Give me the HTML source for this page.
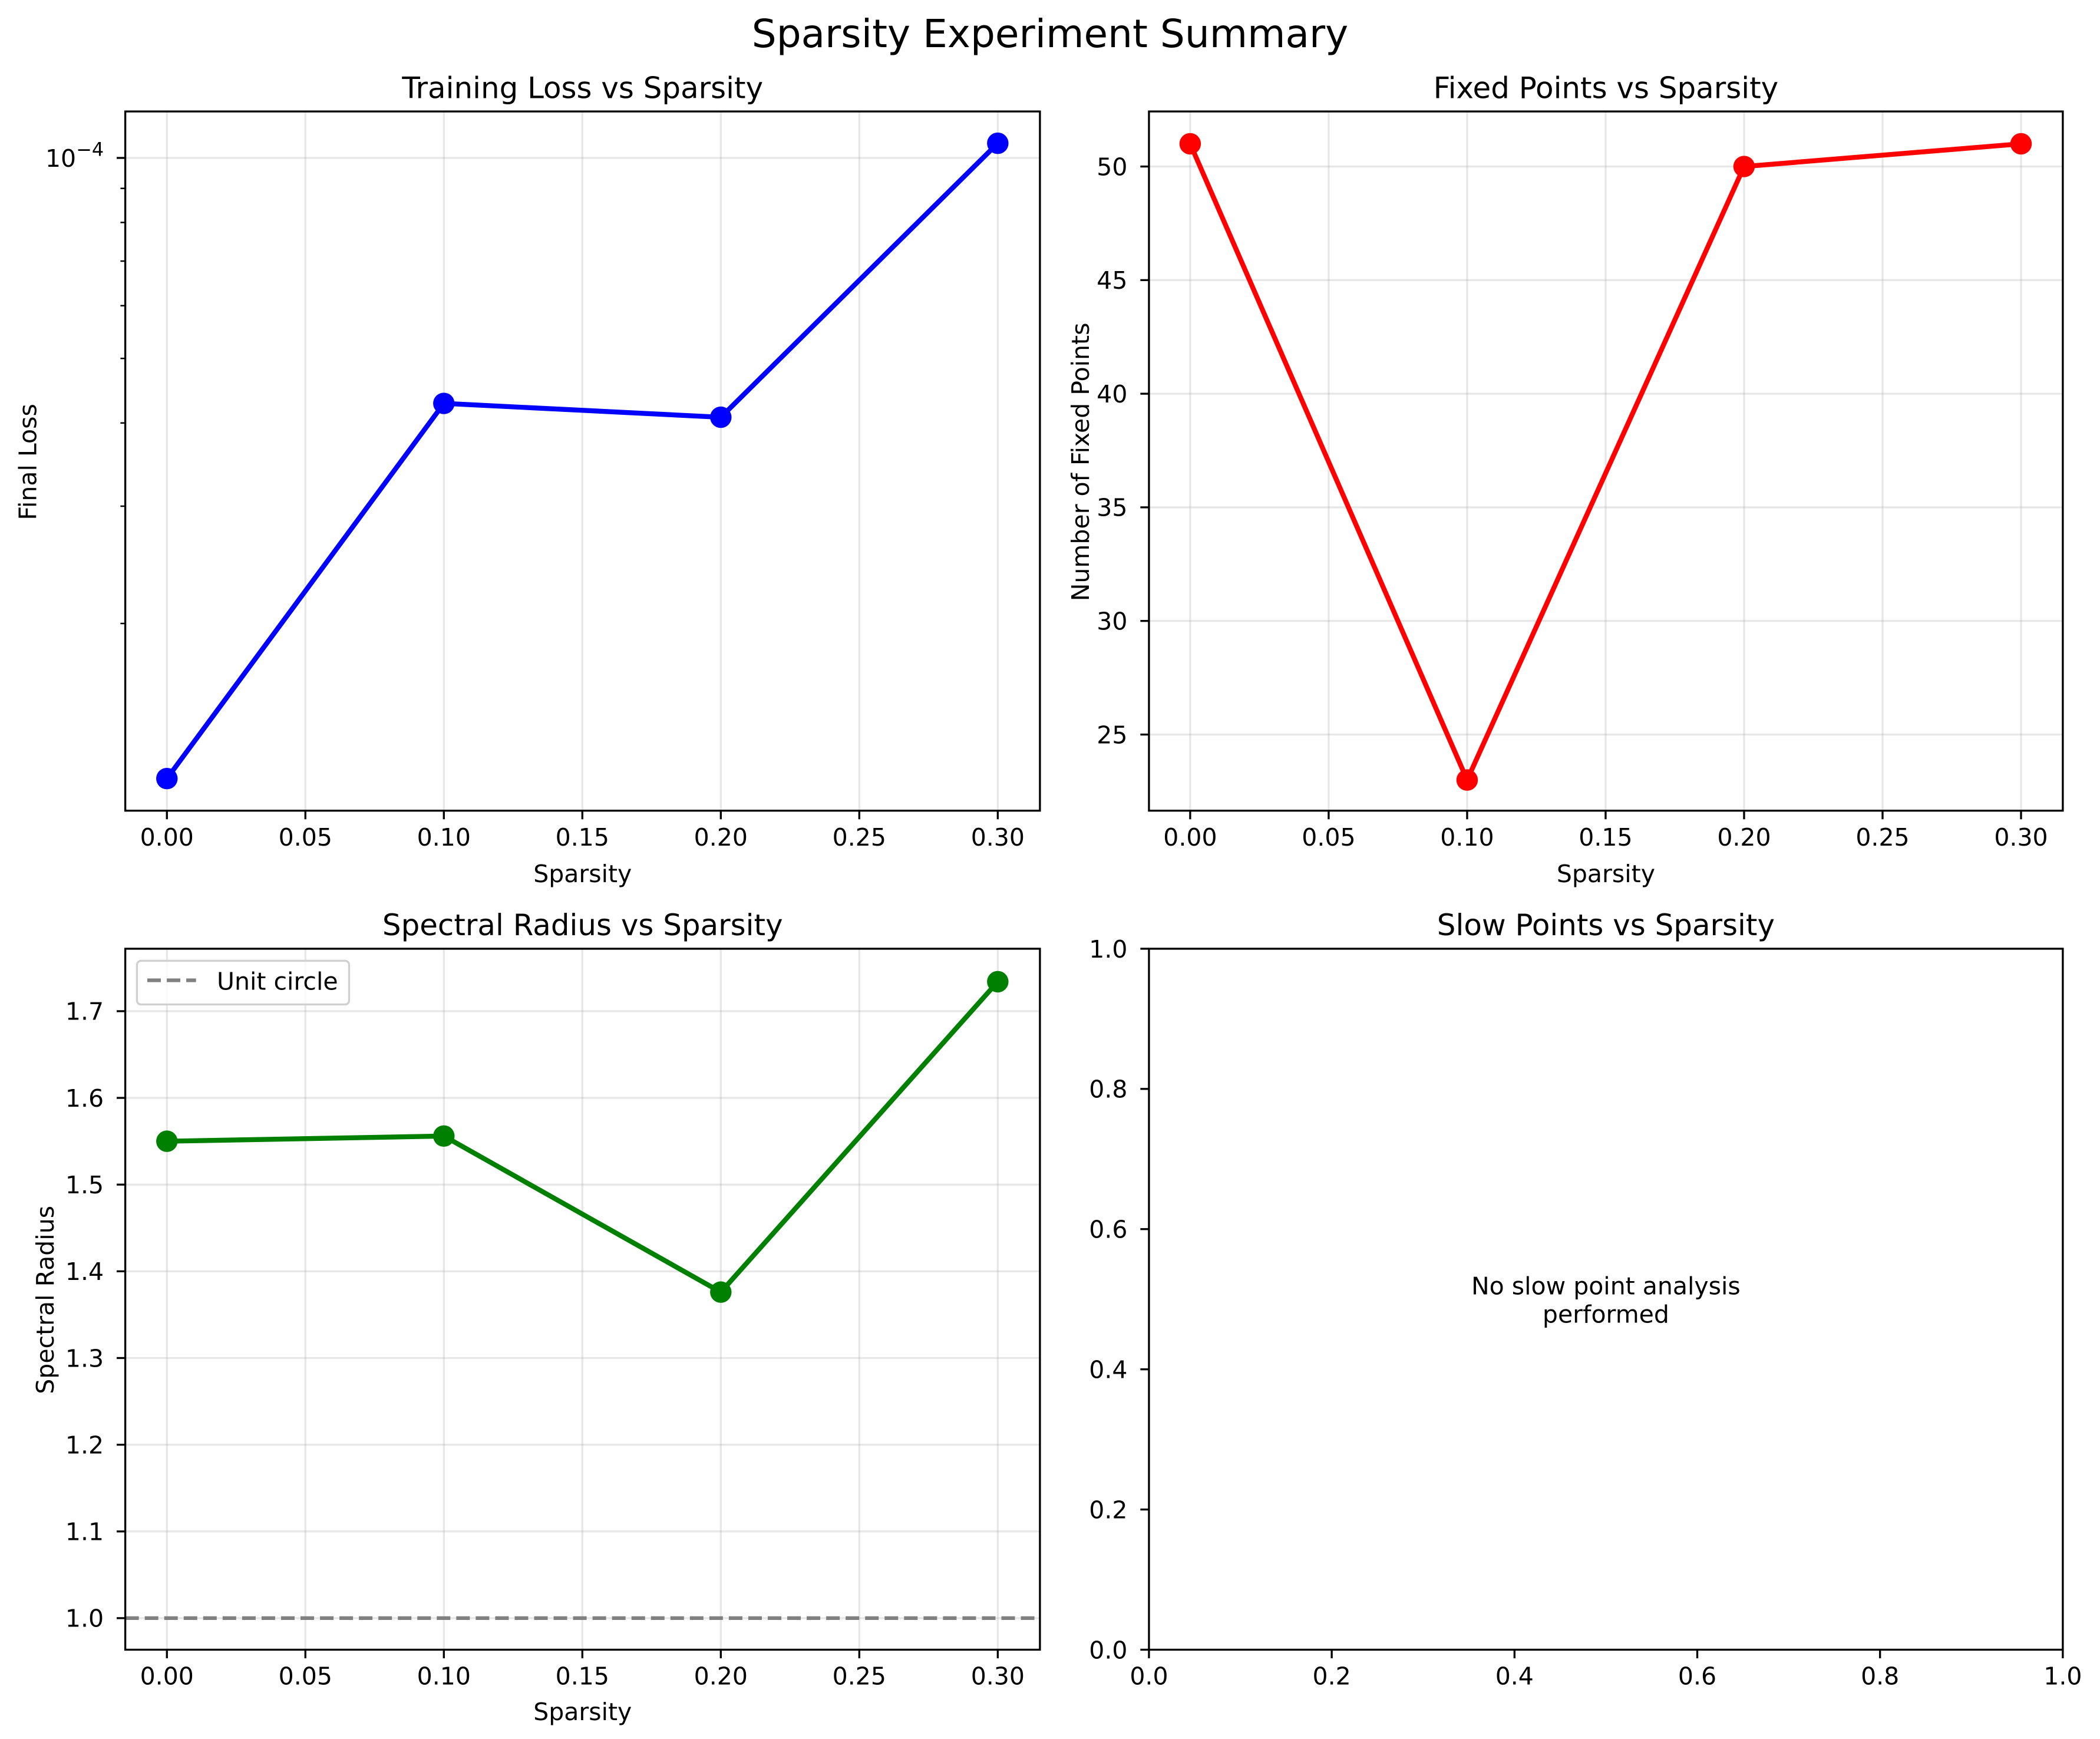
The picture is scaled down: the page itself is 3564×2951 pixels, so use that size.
<!DOCTYPE html>
<html><head><meta charset="utf-8"><style>
html,body{margin:0;padding:0;background:#fff}
svg{display:block;font-family:"DejaVu Sans","Liberation Sans",sans-serif}
</style></head><body>
<svg id="fig" width="3564" height="2951" viewBox="0 0 1564 1295" xmlns="http://www.w3.org/2000/svg">
<rect width="1564" height="1295" fill="#fff"/>
<text x="782" y="35" font-size="29" text-anchor="middle">Sparsity Experiment Summary</text>
<g id="root"></g>
</svg>
<script>
const sparsity = [0.0, 0.1, 0.2, 0.3];
const lossValues = [1.17e-5, 4.28e-5, 4.08e-5, 1.052e-4];
const fixedPoints = [51, 23, 50, 51];
const spectralRadius = [1.55, 1.556, 1.376, 1.734];
const xTicks = [0, 0.05, 0.1, 0.15, 0.2, 0.25, 0.3];
const fpTicks = [25, 30, 35, 40, 45, 50];
const srTicks = [1.0, 1.1, 1.2, 1.3, 1.4, 1.5, 1.6, 1.7];
const unitTicks = [0, 0.2, 0.4, 0.6, 0.8, 1.0];

const NS = "http://www.w3.org/2000/svg";
const root = document.getElementById('root');
const FS = 18, LW = 1.46, TL = 6.4;
function mk(tag, attrs, parent, text) {
  const e = document.createElementNS(NS, tag);
  for (const k in attrs) e.setAttribute(k, attrs[k]);
  if (text !== undefined) e.textContent = text;
  (parent || root).appendChild(e);
  return e;
}
function panel(name, L, T, R, B, title) {
  const g = mk('g', {});
  
  
  const t = mk('text', {x: (L + R) / 2, y: T - 10, 'font-size': 21.9, 'text-anchor': 'middle'}, g, title);
  
  
  return g;
}
function frame(g, L, T, R, B) {
  const r = mk('rect', {x: L, y: T, width: R - L, height: B - T, fill: 'none', stroke: '#000', 'stroke-width': LW}, g);
  
  
}
function xAxis(g, ticks, sx, T, B, grid, fmt) {
  ticks.forEach(v => {
    const x = sx(v);
    if (grid) mk('line', {x1: x, x2: x, y1: T, y2: B, stroke: '#b0b0b0', 'stroke-opacity': 0.3, 'stroke-width': LW}, g);
    mk('line', {x1: x, x2: x, y1: B, y2: B + TL, stroke: '#000', 'stroke-width': LW}, g);
    const t = mk('text', {x: x, y: B + 26, 'font-size': FS, 'text-anchor': 'middle'}, g, fmt(v));
    
    
  });
}
function yAxis(g, ticks, sy, L, R, grid, fmt) {
  ticks.forEach(v => {
    const y = sy(v);
    if (grid) mk('line', {x1: L, x2: R, y1: y, y2: y, stroke: '#b0b0b0', 'stroke-opacity': 0.3, 'stroke-width': LW}, g);
    mk('line', {x1: L - TL, x2: L, y1: y, y2: y, stroke: '#000', 'stroke-width': LW}, g);
    const t = mk('text', {x: L - 16, y: y + 6.5, 'font-size': FS, 'text-anchor': 'end'}, g, fmt(v));
    
    
  });
}
function series(g, xs, ys, sx, sy, color, name) {
  const pts = xs.map((x, i) => sx(x) + ',' + sy(ys[i])).join(' ');
  const pl = mk('polyline', {points: pts, fill: 'none', stroke: color, 'stroke-width': 3.66, 'stroke-linejoin': 'round'}, g);
  
  
  xs.forEach((x, i) => {
    const c = mk('circle', {cx: sx(x), cy: sy(ys[i]), r: 8, fill: color}, g);
    
    
  });
}
function label(g, x, y, text, rot, name) {
  const t = mk('text', {x: x, y: y, 'font-size': FS, 'text-anchor': 'middle', transform: rot ? `rotate(-90 ${x} ${y})` : ''}, g, text);
  
  
}
const fmt2 = v => v.toFixed(2);
const L1 = 93.3, R1 = 774.5, L2 = 855.7, R2 = 1536.3;
const T1 = 83, B1 = 603.7, T2 = 706.5, B2 = 1228.5;

// Panel 1: log scale
(function () {
  const L = L1, T = T1, R = R1, B = B1;
  const g = panel('training-loss-panel', L, T, R, B, 'Training Loss vs Sparsity');
  const sx = v => 124.3 + v / 0.3 * 618.8;
  const sy = v => 117.6 - Math.log10(v / 1e-4) * 496;
  xAxis(g, xTicks, sx, T, B, true, fmt2);
  mk('line', {x1: L, x2: R, y1: sy(1e-4), y2: sy(1e-4), stroke: '#b0b0b0', 'stroke-opacity': 0.3, 'stroke-width': LW}, g);
  mk('line', {x1: L - TL, x2: L, y1: sy(1e-4), y2: sy(1e-4), stroke: '#000', 'stroke-width': LW}, g);
  const t = mk('text', {x: L - 16, y: sy(1e-4) + 6.5, 'font-size': FS, 'text-anchor': 'end'}, g);
  
  
  mk('tspan', {}, t, '10');
  mk('tspan', {dy: -8, 'font-size': 14}, t, '\u22124');
  for (let m = 2; m <= 9; m++) {
    const y = sy(m * 1e-5);
    mk('line', {x1: L - 3.6, x2: L, y1: y, y2: y, stroke: '#000', 'stroke-width': 1.1}, g);
  }
  frame(g, L, T, R, B);
  series(g, sparsity, lossValues, sx, sy, '#0000ff', 'loss');
  label(g, (L + R) / 2, 657, 'Sparsity', false, 'x-axis-title');
  label(g, 27, 344, 'Final Loss', true, 'y-axis-title');
})();

// Panel 2
(function () {
  const L = L2, T = T1, R = R2, B = B1;
  const g = panel('fixed-points-panel', L, T, R, B, 'Fixed Points vs Sparsity');
  const sx = v => 886.4 + v / 0.3 * 618.8;
  const sy = v => 124 + (50 - v) * 16.92;
  xAxis(g, xTicks, sx, T, B, true, fmt2);
  yAxis(g, fpTicks, sy, L, R, true, v => String(v));
  frame(g, L, T, R, B);
  series(g, sparsity, fixedPoints, sx, sy, '#ff0000', 'fixed-points');
  label(g, (L + R) / 2, 657, 'Sparsity', false, 'x-axis-title');
  label(g, 811, 344, 'Number of Fixed Points', true, 'y-axis-title');
})();

// Panel 3
(function () {
  const L = L1, T = T2, R = R1, B = B2;
  const g = panel('spectral-radius-panel', L, T, R, B, 'Spectral Radius vs Sparsity');
  const sx = v => 124.3 + v / 0.3 * 618.8;
  const sy = v => 1205 - (v - 1.0) * 645.7;
  xAxis(g, xTicks, sx, T, B, true, fmt2);
  yAxis(g, srTicks, sy, L, R, true, v => v.toFixed(1));
  const ref = mk('line', {x1: L, x2: R, y1: sy(1.0), y2: sy(1.0), stroke: '#808080', 'stroke-width': 2.74, 'stroke-dasharray': '10.1,4.4'}, g);
  
  
  frame(g, L, T, R, B);
  series(g, sparsity, spectralRadius, sx, sy, '#008000', 'spectral-radius');
  const lg = mk('g', {}, g);
  
  
  mk('rect', {x: 102, y: 715.5, width: 158, height: 32.5, rx: 3, fill: '#fff', 'fill-opacity': 0.8, stroke: '#d0d0d0', 'stroke-width': 1.46}, lg);
  mk('line', {x1: 109.7, x2: 146, y1: 730, y2: 730, stroke: '#808080', 'stroke-width': 2.74, 'stroke-dasharray': '10.1,4.4'}, lg);
  const lt = mk('text', {x: 161.5, y: 737, 'font-size': FS}, lg, 'Unit circle');
  
  
  label(g, (L + R) / 2, 1281, 'Sparsity', false, 'x-axis-title');
  label(g, 40, 968, 'Spectral Radius', true, 'y-axis-title');
})();

// Panel 4
(function () {
  const L = L2, T = T2, R = R2, B = B2;
  const g = panel('slow-points-panel', L, T, R, B, 'Slow Points vs Sparsity');
  const sx = v => L + v * (R - L);
  const sy = v => B - v * (B - T);
  xAxis(g, unitTicks, sx, T, B, false, v => v.toFixed(1));
  yAxis(g, unitTicks, sy, L, R, false, v => v.toFixed(1));
  frame(g, L, T, R, B);
  const t1 = mk('text', {x: (L + R) / 2, y: 964, 'font-size': FS, 'text-anchor': 'middle'}, g, 'No slow point analysis');
  
  
  const t2 = mk('text', {x: (L + R) / 2, y: 985, 'font-size': FS, 'text-anchor': 'middle'}, g, 'performed');
  
  
})();
</script>
</body></html>
